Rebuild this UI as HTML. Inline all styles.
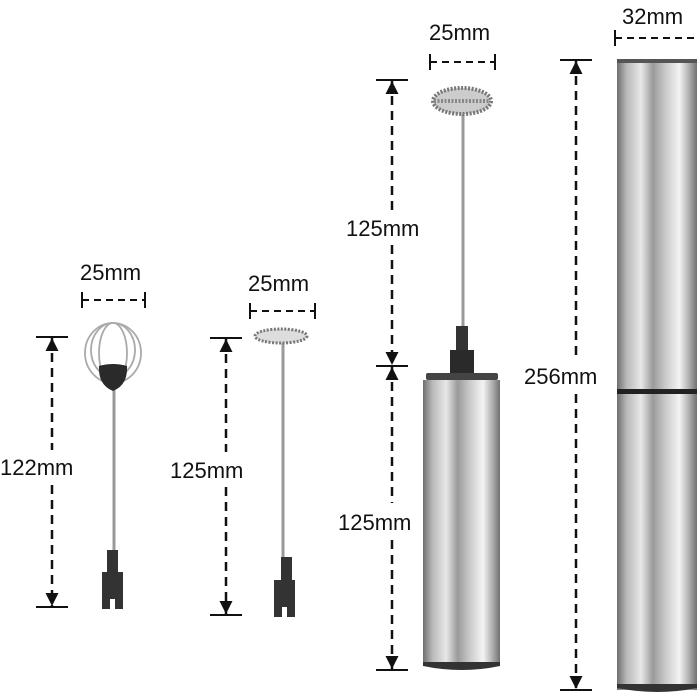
<!DOCTYPE html>
<html><head><meta charset="utf-8"><style>
html,body{margin:0;padding:0;background:#fff;width:700px;height:700px;overflow:hidden}
text{font-family:"Liberation Sans",sans-serif;font-size:22px;fill:#111}
</style></head><body>
<svg width="700" height="700" viewBox="0 0 700 700" xmlns="http://www.w3.org/2000/svg">
<defs>
<linearGradient id="m" x1="0" x2="1" y1="0" y2="0">
<stop offset="0" stop-color="#6e6e6e"/><stop offset="0.12" stop-color="#b8b8b8"/>
<stop offset="0.3" stop-color="#e8e8e8"/><stop offset="0.45" stop-color="#9a9a9a"/>
<stop offset="0.6" stop-color="#c8c8c8"/><stop offset="0.78" stop-color="#f4f4f4"/>
<stop offset="0.9" stop-color="#b0b0b0"/><stop offset="1" stop-color="#707070"/>
</linearGradient>
<marker id="a" viewBox="0 0 12 12" refX="12" refY="6" markerWidth="14" markerHeight="13" markerUnits="userSpaceOnUse" orient="auto-start-reverse"><path d="M0,0 L12,6 L0,12 z" fill="#111"/></marker>
</defs>
<g stroke="#111" stroke-width="2" fill="none">
<path d="M82,292v16M145,292v16"/>
<path d="M250,303v16M315,303v16"/>
<path d="M430,54v16M495,54v16"/>
<path d="M615,30v16"/>
<path d="M36,337h32M36,607h32"/>
<path d="M210,338h32M210,615h32"/>
<path d="M376,80h32M376,366h32M376,670h32"/>
<path d="M560,60h32M560,690h32"/>
</g>
<g stroke="#111" stroke-width="2" stroke-dasharray="7,5">
<path d="M82,300h63M250,311h65M430,62h65M615,38h82"/>
</g>
<g stroke="#111" stroke-width="2.5" stroke-dasharray="9,6" fill="none">
<line x1="52" y1="338" x2="52" y2="450" marker-start="url(#a)"/><line x1="52" y1="485" x2="52" y2="606" marker-end="url(#a)"/>
<line x1="226" y1="339" x2="226" y2="452" marker-start="url(#a)"/><line x1="226" y1="487" x2="226" y2="614" marker-end="url(#a)"/>
<line x1="392" y1="81" x2="392" y2="210" marker-start="url(#a)"/><line x1="392" y1="245" x2="392" y2="365" marker-end="url(#a)"/>
<line x1="392" y1="367" x2="392" y2="503" marker-start="url(#a)"/><line x1="392" y1="540" x2="392" y2="669" marker-end="url(#a)"/>
<line x1="576" y1="61" x2="576" y2="358" marker-start="url(#a)"/><line x1="576" y1="394" x2="576" y2="689" marker-end="url(#a)"/>
</g>
<text x="80" y="280">25mm</text><text x="248" y="291">25mm</text><text x="429" y="40">25mm</text><text x="622" y="24">32mm</text>
<text x="0" y="475">122mm</text><text x="170" y="478">125mm</text><text x="346" y="236">125mm</text><text x="338" y="530">125mm</text><text x="524" y="384">256mm</text>
<!-- whisk -->
<g fill="none" stroke="#aaa" stroke-width="1.8">
<ellipse cx="113" cy="353" rx="28" ry="30"/><ellipse cx="113" cy="353" rx="14" ry="30"/><ellipse cx="113" cy="350" rx="22" ry="27"/>
</g>
<line x1="114" y1="390" x2="114" y2="552" stroke="#999" stroke-width="3"/>
<path d="M99,366 Q113,362 127,366 Q128,385 113,391 Q98,385 99,366z" fill="#2a2a2a"/>
<path d="M107,550h11v22h5v37h-8v-10h-5v10h-8v-37h5z" fill="#333"/>
<!-- frother 2 -->
<line x1="283" y1="340" x2="283" y2="560" stroke="#999" stroke-width="3"/>
<ellipse cx="281" cy="336" rx="26" ry="7" fill="#ddd" stroke="#777" stroke-width="3" stroke-dasharray="2,1.5"/>
<path d="M281,557h11v23h3v37h-8v-10h-5v10h-8v-37h7z" fill="#333"/>
<!-- frother 3 -->
<line x1="463" y1="110" x2="463" y2="330" stroke="#999" stroke-width="3"/>
<ellipse cx="462" cy="101" rx="29" ry="13" fill="#ccc" stroke="#777" stroke-width="4" stroke-dasharray="2,1.5"/>
<line x1="434" y1="101" x2="490" y2="101" stroke="#888" stroke-width="4" stroke-dasharray="2,1.5"/>
<rect x="456" y="326" width="12" height="25" fill="#333"/><rect x="450" y="350" width="24" height="26" fill="#2a2a2a"/>
<rect x="426" y="373" width="72" height="7" rx="2" fill="#444"/>
<rect x="423" y="380" width="77" height="285" fill="url(#m)"/>
<path d="M423,662 h77 v4 q-38,8 -77,0z" fill="#333"/>
<!-- big cylinder -->
<rect x="617" y="60" width="80" height="630" fill="url(#m)"/>
<rect x="617" y="59" width="80" height="4" fill="#555"/>
<rect x="617" y="389" width="80" height="5" fill="#222"/>
<path d="M617,684 h80 v4 q-40,8 -80,0z" fill="#333"/>
</svg>
</body></html>
